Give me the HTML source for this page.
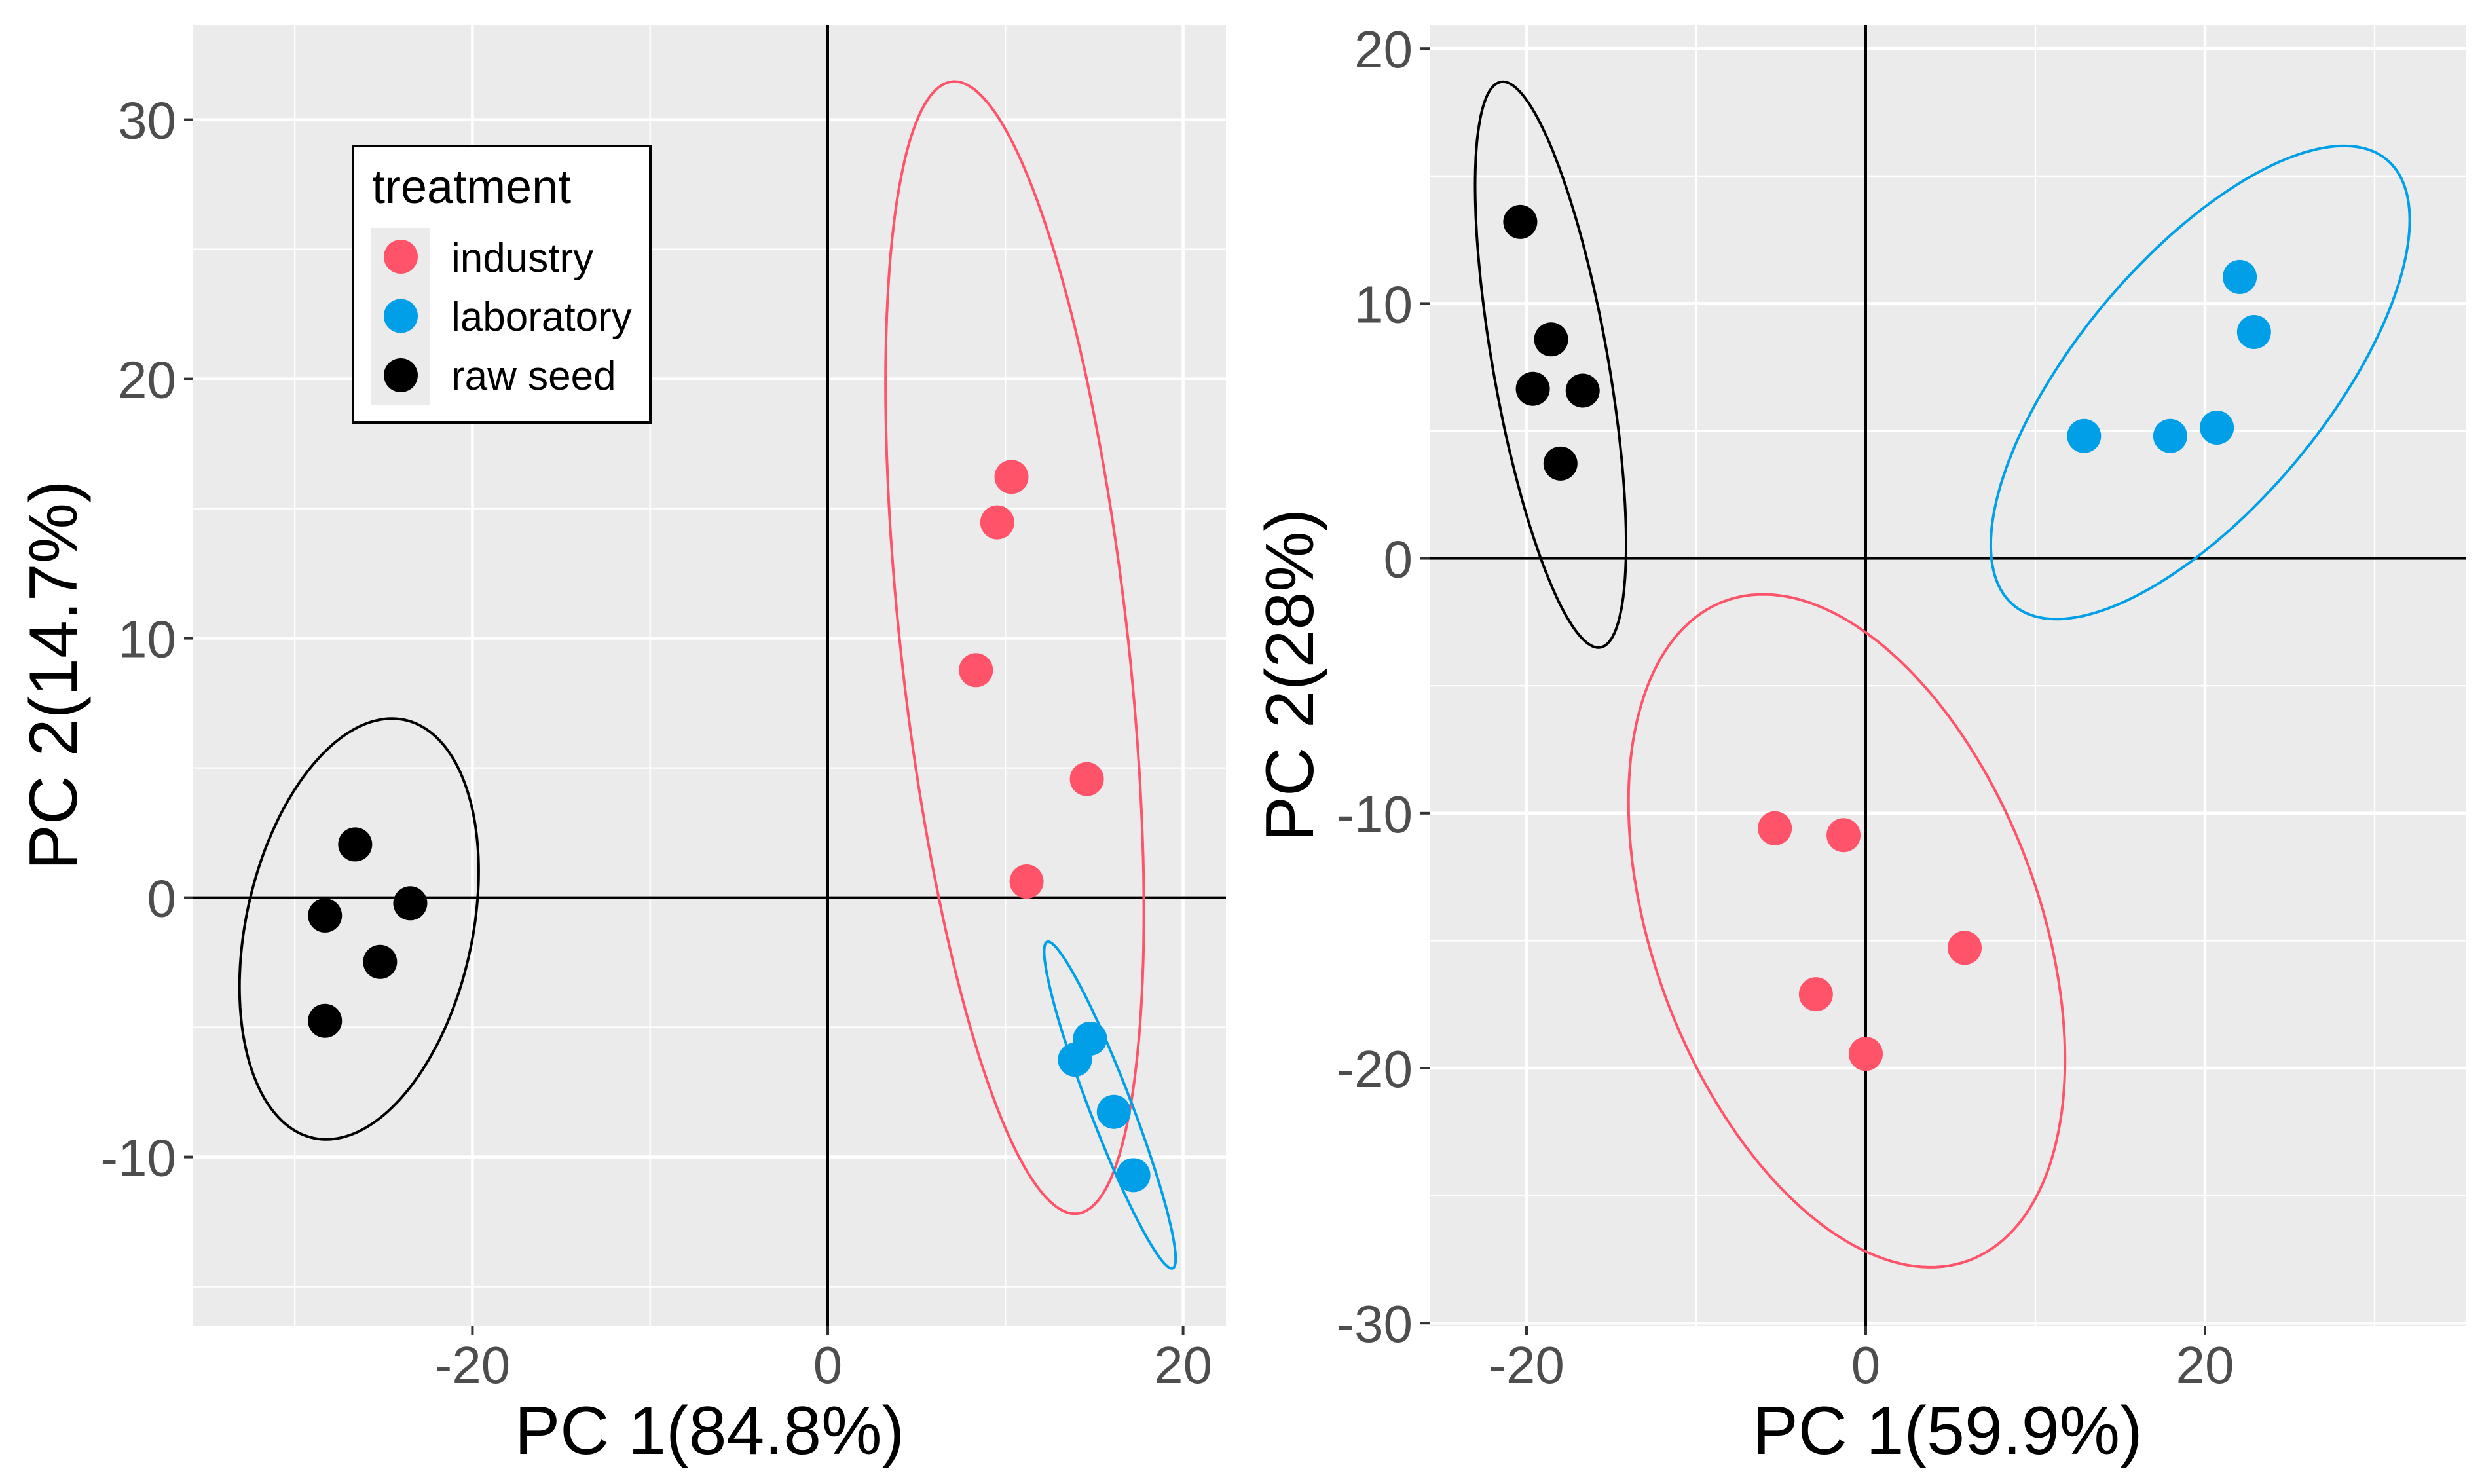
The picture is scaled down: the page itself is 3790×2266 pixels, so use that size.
<!DOCTYPE html>
<html><head><meta charset="utf-8">
<style>
html,body{margin:0;padding:0;background:#fff;}
svg{display:block;font-family:"Liberation Sans",Arial,sans-serif;}
</style></head>
<body>
<svg id="chart" width="3790" height="2266" viewBox="0 0 3790 2266" xmlns="http://www.w3.org/2000/svg"></svg>
<script>
// ---- data (left panel) ----
const leftIndustryX = [10.34, 9.54, 8.34, 14.58, 11.19];
const leftIndustryY = [16.22, 14.47, 8.77, 4.57, 0.62];
const leftLabX = [14.76, 13.91, 16.1, 17.2];
const leftLabY = [-5.44, -6.25, -8.26, -10.7];
const leftRawX = [-26.6, -28.3, -23.5, -25.2, -28.3];
const leftRawY = [2.05, -0.69, -0.22, -2.48, -4.75];
// ellipse params: [cx, cy, ux, uy, vy]
const leftRawEllipse = [-26.38, -1.21, 6.73, 2.23, 7.80];
const leftIndustryEllipse = [10.52, 9.64, 7.27, -10.18, 19.31];
const leftLabEllipse = [15.88, -8.0, 3.70, -5.92, 2.15];
const leftXTicks = [-20, 0, 20];
const leftXMinor = [-30, -10, 10];
const leftYTicks = [-10, 0, 10, 20, 30];
const leftYMinor = [-15, -5, 5, 15, 25];
// ---- data (right panel) ----
const rightIndustryX = [-5.36, -1.31, 5.83, -2.94, 0];
const rightIndustryY = [-10.59, -10.86, -15.28, -17.1, -19.44];
const rightLabX = [22.05, 22.89, 12.87, 17.95, 20.7];
const rightLabY = [11.04, 8.88, 4.8, 4.8, 5.13];
const rightRawX = [-20.37, -18.55, -19.63, -16.69, -18.0];
const rightRawY = [13.2, 8.59, 6.65, 6.58, 3.72];
const rightRawEllipse = [-18.58, 7.6, 4.45, -7.03, 8.59];
const rightLabEllipse = [19.72, 6.9, 12.35, 6.37, 6.75];
const rightIndustryEllipse = [-1.12, -14.61, 12.87, -5.06, 12.19];
const rightXTicks = [-20, 0, 20];
const rightXMinor = [-10, 10, 30];
const rightYTicks = [-30, -20, -10, 0, 10, 20];
const rightYMinor = [-25, -15, -5, 5, 15];

const C_IND = '#FF5369', C_LAB = '#009FE8', C_RAW = '#000000';
const NS = 'http://www.w3.org/2000/svg';
const svg = document.getElementById('chart');
function mk(tag, attrs, parent){const e=document.createElementNS(NS,tag);for(const k in attrs)e.setAttribute(k,attrs[k]);(parent||svg).appendChild(e);return e;}

function panel(cfg){
  const g = mk('g',{});
  
  
  const sx = v => cfg.x0 + v*cfg.kx;
  const sy = v => cfg.y0 - v*cfg.ky;
  const bg = mk('rect',{x:cfg.L,y:cfg.T,width:cfg.R-cfg.L,height:cfg.B-cfg.T,fill:'#EBEBEB'},g);
  
  
  cfg.xMinor.forEach(v=>{const l=mk('line',{x1:sx(v),x2:sx(v),y1:cfg.T,y2:cfg.B,stroke:'#fff','stroke-width':2.3},g);
    
    });
  cfg.yMinor.forEach(v=>{const l=mk('line',{x1:cfg.L,x2:cfg.R,y1:sy(v),y2:sy(v),stroke:'#fff','stroke-width':2.3},g);
    
    });
  cfg.xTicks.forEach(v=>{const l=mk('line',{x1:sx(v),x2:sx(v),y1:cfg.T,y2:cfg.B,stroke:'#fff','stroke-width':4.5},g);
    
    
    const t=mk('line',{x1:sx(v),x2:sx(v),y1:cfg.B,y2:cfg.B+14,stroke:'#333','stroke-width':4},g);
    
    
    const tx=mk('text',{x:sx(v),y:2112,'text-anchor':'middle','font-size':80,fill:'#4D4D4D'},g);
    tx.textContent=String(v);
    
    });
  cfg.yTicks.forEach(v=>{const l=mk('line',{x1:cfg.L,x2:cfg.R,y1:sy(v),y2:sy(v),stroke:'#fff','stroke-width':4.5},g);
    
    
    const t=mk('line',{x1:cfg.L-14,x2:cfg.L,y1:sy(v),y2:sy(v),stroke:'#333','stroke-width':4},g);
    
    
    const tx=mk('text',{x:cfg.L-26,y:sy(v)+29,'text-anchor':'end','font-size':80,fill:'#4D4D4D'},g);
    tx.textContent=String(v);
    
    });
  // zero lines
  const hz=mk('line',{x1:cfg.L,x2:cfg.R,y1:sy(0),y2:sy(0),stroke:'#000','stroke-width':4},g);
  
  
  const vz=mk('line',{x1:sx(0),x2:sx(0),y1:cfg.T,y2:cfg.B,stroke:'#000','stroke-width':4},g);
  
  
  // ellipses
  cfg.ellipses.forEach(([p,col,nm])=>{
    let d='';
    for(let i=0;i<=180;i++){const t=i/180*2*Math.PI;
      const x=sx(p[0]+p[2]*Math.cos(t)), y=sy(p[1]+p[3]*Math.cos(t)+p[4]*Math.sin(t));
      d+=(i?'L':'M')+x.toFixed(1)+','+y.toFixed(1);}
    const e=mk('path',{d:d+'Z',fill:'none',stroke:col,'stroke-width':4},g);
    
    
  });
  // points
  cfg.points.forEach(([xs,ys,col,nm])=>{
    xs.forEach((v,i)=>{const c=mk('circle',{cx:sx(v),cy:sy(ys[i]),r:26,fill:col},g);
      
      });
  });
  // titles
  const xt=mk('text',{x:(cfg.L+cfg.R)/2,y:2220,'text-anchor':'middle','font-size':104,fill:'#000'},g);
  xt.textContent=cfg.xTitle;
  
  
  const yc=(cfg.T+cfg.B)/2;
  const yt=mk('text',{x:0,y:0,'text-anchor':'middle','font-size':104,fill:'#000',transform:`translate(${cfg.yTitleX},${yc}) rotate(-90)`},g);
  yt.textContent=cfg.yTitle;
  
  
}

panel({name:'left-panel',L:295,R:1872,T:38,B:2024,x0:1264,kx:27.13,y0:1370.6,ky:39.6,
  xTicks:leftXTicks,xMinor:leftXMinor,yTicks:leftYTicks,yMinor:leftYMinor,
  ellipses:[[leftIndustryEllipse,C_IND,'industry-ellipse'],[leftLabEllipse,C_LAB,'laboratory-ellipse'],[leftRawEllipse,C_RAW,'raw-seed-ellipse']],
  points:[[leftIndustryX,leftIndustryY,C_IND,'industry-point'],[leftLabX,leftLabY,C_LAB,'laboratory-point'],[leftRawX,leftRawY,C_RAW,'raw-seed-point']],
  xTitle:'PC 1(84.8%)',yTitle:'PC 2(14.7%)',yTitleX:117});
panel({name:'right-panel',L:2183,R:3765,T:38,B:2024,x0:2849,kx:25.9,y0:852.6,ky:38.92,
  xTicks:rightXTicks,xMinor:rightXMinor,yTicks:rightYTicks,yMinor:rightYMinor,
  ellipses:[[rightIndustryEllipse,C_IND,'industry-ellipse'],[rightLabEllipse,C_LAB,'laboratory-ellipse'],[rightRawEllipse,C_RAW,'raw-seed-ellipse']],
  points:[[rightIndustryX,rightIndustryY,C_IND,'industry-point'],[rightLabX,rightLabY,C_LAB,'laboratory-point'],[rightRawX,rightRawY,C_RAW,'raw-seed-point']],
  xTitle:'PC 1(59.9%)',yTitle:'PC 2(28%)',yTitleX:2005});

// legend
const lg=mk('g',{});


mk('rect',{x:539,y:223,width:454,height:422,fill:'#fff',stroke:'#000','stroke-width':4},lg);
const lt=mk('text',{x:568,y:310,'font-size':72,fill:'#000'},lg);
lt.textContent='treatment';


mk('rect',{x:567,y:348,width:90,height:271,fill:'#EBEBEB'},lg);
const legendLabels=['industry','laboratory','raw seed'];
const legendColors=[C_IND,C_LAB,C_RAW];
legendLabels.forEach((s,i)=>{
  const c=mk('circle',{cx:612,cy:392+i*90.5,r:26,fill:legendColors[i]},lg);
  
  
  const t=mk('text',{x:689,y:415+i*90,'font-size':62,fill:'#000'},lg);
  t.textContent=s;
  
  
});
</script>
</body></html>
